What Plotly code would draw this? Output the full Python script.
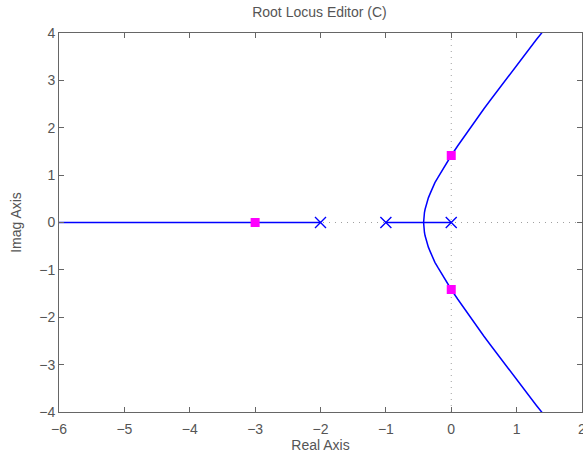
import plotly.graph_objects as go

# Poles (open loop) and closed-loop poles (magenta squares)
pole_re = [0, -1, -2]
pole_im = [0, 0, 0]
cl_re = [0, 0, -3]
cl_im = [1.414, -1.414, 0]

# Upper complex branch
branch_re = [-0.423, -0.422, -0.42, -0.415, -0.41, -0.40, -0.39, -0.37, -0.35, -0.32, -0.3, -0.25, -0.2, -0.15,
             -0.1, -0.05, 0.0, 0.1, 0.2, 0.3, 0.4, 0.5, 0.6, 0.7, 0.8, 0.9, 1.0, 1.1, 1.2, 1.3, 1.4]
branch_im = [0.0, 0.05, 0.10, 0.17, 0.21, 0.28, 0.34, 0.44, 0.52, 0.62, 0.69, 0.84, 0.96, 1.08,
             1.20, 1.31, 1.414, 1.62, 1.82, 2.02, 2.21, 2.40, 2.585, 2.77, 2.953, 3.135, 3.317, 3.497, 3.677, 3.856, 4.03]

# Real-axis segments
seg1_re = [-6.5, -2]
seg2_re = [-1, 0]

blue = "#0000ff"
grey_txt = "#555555"
frame = "#666666"
font_fam = "Liberation Sans, Arial"

fig = go.Figure()

# dotted axes
dot = dict(color="#a0a0a0", width=1, dash="1px,5px")
fig.add_shape(type="line", x0=-6, x1=2, y0=0, y1=0, xref="x", yref="y", line=dot, layer="below")
fig.add_shape(type="line", x0=0, x1=0, y0=-4, y1=4, xref="x", yref="y", line=dot, layer="below")

line_style = dict(color=blue, width=1.5)
fig.add_trace(go.Scatter(x=seg1_re, y=[0, 0], mode="lines", line=line_style))
fig.add_trace(go.Scatter(x=seg2_re, y=[0, 0], mode="lines", line=line_style))
fig.add_trace(go.Scatter(x=branch_re, y=branch_im, mode="lines", line=line_style))
fig.add_trace(go.Scatter(x=branch_re, y=[-v for v in branch_im], mode="lines", line=line_style))

fig.add_trace(go.Scatter(x=pole_re, y=pole_im, mode="markers",
                         marker=dict(symbol="x-thin", size=11, line=dict(color=blue, width=1.4))))
fig.add_trace(go.Scatter(x=cl_re, y=cl_im, mode="markers",
                         marker=dict(symbol="square", size=9, color="#ff00ff")))

axis_common = dict(showline=True, linecolor=frame, linewidth=1, mirror="ticks",
                   ticks="inside", ticklen=5, tickcolor=frame, showgrid=False, zeroline=False,
                   ticklabeloverflow="allow", automargin=False,
                   tickfont=dict(family=font_fam, size=14, color=grey_txt),
                   title_font=dict(family=font_fam, size=14, color=grey_txt))

fig.update_layout(
    width=583, height=457,
    margin=dict(l=59, r=1, t=33, b=45),
    plot_bgcolor="white", paper_bgcolor="white",
    showlegend=False,
    title=dict(text="Root Locus Editor (C)", x=0.548, xanchor="center", y=0.974, yanchor="middle",
               font=dict(family=font_fam, size=14, color=grey_txt)),
    xaxis=dict(range=[-6, 2], tickmode="array", tickvals=[-6, -5, -4, -3, -2, -1, 0, 1, 2],
               ticktext=["\u22126", "\u22125", "\u22124", "\u22123", "\u22122", "\u22121", "0", "1", "2"],
               ticklabelstandoff=4,
               title=dict(text="Real Axis", standoff=0), **axis_common),
    yaxis=dict(range=[-4, 4], tickmode="array", tickvals=[-4, -3, -2, -1, 0, 1, 2, 3, 4],
               ticktext=["\u22124", "\u22123", "\u22122", "\u22121", "0", "1", "2", "3", "4"],
               title=dict(text="Imag Axis", standoff=14), **axis_common),
)

fig.write_html("out.html")
